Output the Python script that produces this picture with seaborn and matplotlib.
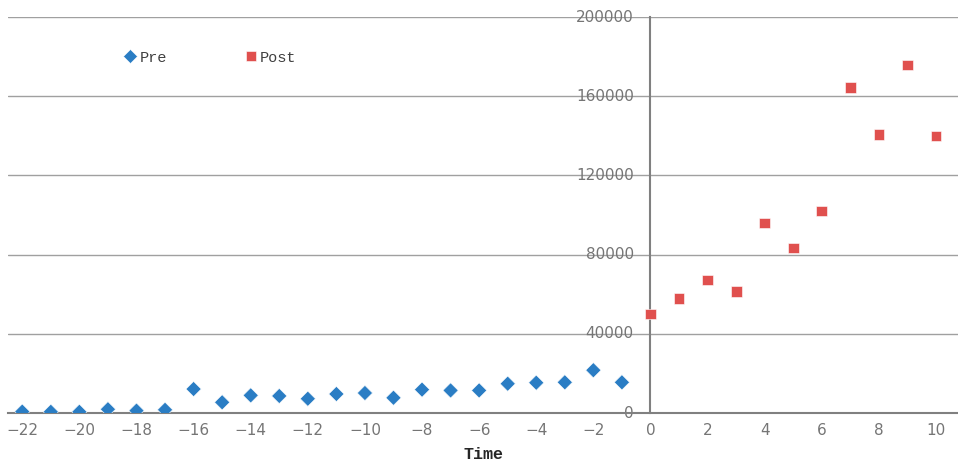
import matplotlib
matplotlib.use('Agg')
import matplotlib.pyplot as plt
import seaborn as sns
import pandas as pd

# Values
pre_time = list(range(-22, 0))
pre_vals = [700, 600, 600, 1900, 1200, 1600, 12100, 5400, 8900, 8600, 7200,
            9600, 10100, 7700, 11800, 11400, 11400, 14800, 15300, 15500, 21600, 15500]
post_time = list(range(0, 11))
post_vals = [50000, 57900, 67200, 61300, 96000, 83300, 102000, 164500, 140500, 175700, 139900]

df = pd.concat([
    pd.DataFrame({'Time': pre_time, 'Value': pre_vals, 'Group': 'Pre'}),
    pd.DataFrame({'Time': post_time, 'Value': post_vals, 'Group': 'Post'}),
], ignore_index=True)

sns.set_style('white')
plt.rcParams['font.family'] = ['Liberation Mono', 'DejaVu Sans Mono']

fig = plt.figure(figsize=(9.58, 4.66), dpi=100)
ax = fig.add_axes([8 / 958, 53 / 466, 950 / 958, 396 / 466])

palette = {'Pre': '#2a7dc4', 'Post': '#e0504e'}
markers = {'Pre': 'D', 'Post': 's'}
sns.scatterplot(data=df, x='Time', y='Value', hue='Group', style='Group',
                palette=palette, markers=markers, s=60, linewidth=0.4,
                edgecolor='white', ax=ax, zorder=3)

ax.set_xlim(-22.5, 10.77)
ax.set_ylim(0, 200000)
ax.set_xticks(range(-22, 11, 2))
ax.set_yticks(range(0, 200001, 40000))
ax.set_xticklabels([str(t).replace('-', '\u2212') for t in range(-22, 11, 2)])

ax.grid(True, axis='y', color='#a0a0a0', linewidth=1)
ax.set_axisbelow(True)
for side in ['top', 'right']:
    ax.spines[side].set_visible(False)
ax.spines['left'].set_position(('data', 0))
ax.spines['left'].set_color('#808080')
ax.spines['left'].set_linewidth(1.5)
ax.spines['bottom'].set_color('#808080')
ax.spines['bottom'].set_linewidth(1.5)
ax.tick_params(axis='y', length=0, labelsize=11, labelcolor='#757575', pad=12)
ax.tick_params(axis='x', length=4, color='#808080', labelsize=11, labelcolor='#757575', pad=3)
for lbl in ax.get_yticklabels() + ax.get_xticklabels():
    lbl.set_family('DejaVu Sans')
for lbl in ax.get_yticklabels():
    lbl.set_verticalalignment('center')

ax.set_xlabel('Time', fontsize=12, weight='bold', labelpad=7)
ax.set_ylabel('')

handles, labels = ax.get_legend_handles_labels()
ax.legend(handles, labels, loc='upper left', bbox_to_anchor=(0.106, 0.95),
          ncol=2, frameon=False, fontsize=11, handlelength=1.0,
          handletextpad=0.1, columnspacing=5.0, markerscale=0.9,
          labelcolor='#404040')

fig.savefig('out.png', dpi=100)
